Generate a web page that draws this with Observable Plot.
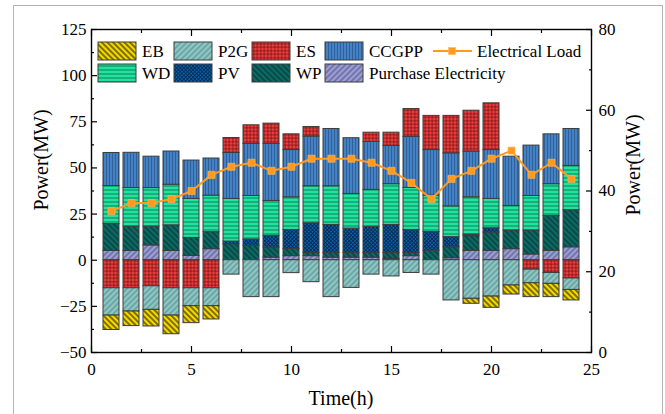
<!DOCTYPE html>
<html>
<head>
<meta charset="utf-8">
<script src="https://cdn.jsdelivr.net/npm/d3@7"></script>
<script src="https://cdn.jsdelivr.net/npm/@observablehq/plot@0.6"></script>
<style>
  body { margin: 0; background: #fff; }
  #wrap { position: relative; width: 665px; height: 414px; overflow: hidden;
          font-family: "Liberation Serif", "Times New Roman", serif; color: #000; }
  #border { position: absolute; left: 13px; top: 5px; width: 648px; height: 460px; border: 1px solid #b4b4b4; }
  #chart { position: absolute; left: 0; top: 0; }
  .title { position: absolute; font-size: 20px; white-space: nowrap; transform: translate(-50%, -50%); }
  .rot { transform: translate(-50%, -50%) rotate(-90deg); }
</style>
</head>
<body>
<div id="wrap">
  <div id="border"></div>
  <div id="chart"></div>
  <div class="title" style="left:341px;top:398px">Time(h)</div>
  <div class="title rot" style="left:41px;top:160px">Power(MW)</div>
  <div class="title rot" style="left:633px;top:165px">Power(MW)</div>
</div>
<script>
// Hourly dispatch (MW); negative values are consumption / charging
const hours = [1, 2, 3, 4, 5, 6, 7, 8, 9, 10, 11, 12, 13, 14, 15, 16, 17, 18, 19, 20, 21, 22, 23, 24];
const purchase = [5, 5, 8, 5, 2.3, 6, 0, 0, 1.4, 2.2, 2.2, 1.4, 1.4, 1.4, 0.7, 2.2, 0, 1.1, 5.1, 5.1, 6, 3.1, 5.1, 7];
const wp = [14.6, 13.2, 10.2, 13.9, 9.8, 9.2, 8.7, 7.8, 5.5, 3.9, 1.8, 2.6, 2.6, 2.6, 3.3, 1.8, 5.1, 5.9, 7.9, 9.9, 10.1, 13, 18.9, 20.1];
const pv = [0, 0, 0, 0, 0, 0, 1.4, 3.4, 6.3, 10.3, 16, 15.1, 13.1, 14.1, 15.1, 12.4, 10.2, 5.5, 0.9, 2.3, 0, 0, 0, 0];
const wd = [20.6, 20.9, 20.9, 22, 21.1, 19.8, 23.1, 23.6, 18.9, 17.7, 20.1, 21, 18.8, 20, 22.1, 22.8, 19.7, 16.7, 20.2, 15.9, 13.3, 18.7, 17.2, 24];
const ccgpp = [17.9, 19.1, 17, 18, 20.8, 20.1, 24.9, 28.2, 30.9, 25.6, 26.9, 31, 30.2, 26, 20.7, 27.6, 24.7, 28.7, 24.7, 26.5, 26.7, 27.3, 27, 20];
const es = [-15.2, -15.2, -14.1, -15.2, -15.2, -15.2, 8.1, 10.1, 11, 8.5, 5.2, 0, 0, 5, 7.2, 15.1, 18.5, 20.3, 22.2, 25.3, 0, -5.1, -6.9, -9.9];
const p2g = [-14.8, -12.6, -12.8, -14.8, -9.7, -9.7, -7.8, -20, -20, -7, -11.9, -20, -15, -7.8, -8.8, -6.9, -7.8, -21.8, -20.9, -19.7, -13.7, -7.4, -5.9, -6.2];
const eb = [-7.8, -7.9, -9, -10.1, -9.2, -7.2, 0, 0, 0, 0, 0, 0, 0, 0, 0, 0, 0, 0, -2.7, -6.1, -4.9, -7.5, -7.2, -5.7];
const load = [35, 37, 37, 38, 40, 44, 46, 47, 45, 46, 48, 48, 48, 47, 45, 42, 38, 43, 45, 48, 50, 44, 47, 43];

// Stack order: first entry sits next to zero
const series = [
  {name: "Purchase Electricity", id: "pur", values: purchase},
  {name: "WP", id: "wp", values: wp},
  {name: "PV", id: "pv", values: pv},
  {name: "WD", id: "wd", values: wd},
  {name: "CCGPP", id: "cc", values: ccgpp},
  {name: "ES", id: "es", values: es},
  {name: "P2G", id: "p2g", values: p2g},
  {name: "EB", id: "eb", values: eb}
];

const rows = [];
for (const s of series) {
  s.values.forEach((v, i) => { if (v !== 0) rows.push({hour: hours[i], series: s.name, value: v}); });
}

// Secondary (right) axis 0–80 mapped onto the primary -50–125 domain
const toLeft = d3.scaleLinear([0, 80], [-50, 125]);
const loadRows = hours.map((h, i) => ({hour: h, load: load[i]}));

const halfWidth = 0.4;
const leftMajor = d3.range(-50, 126, 25);
const leftMinor = d3.range(-37.5, 125, 25);
const rightMajor = d3.range(0, 81, 20);
const rightMinor = d3.range(10, 80, 20);
const xMajor = d3.range(0, 26, 5);
const xMinor = d3.range(2.5, 25, 5);

const chart = Plot.plot({
  width: 665,
  height: 414,
  marginLeft: 91,
  marginRight: 74,
  marginTop: 29,
  marginBottom: 62,
  style: {fontFamily: "Liberation Serif, Times New Roman, serif", fontSize: "17px", background: "transparent", color: "#000"},
  x: {domain: [0, 25], axis: null},
  y: {domain: [-50, 125], axis: null},
  color: {domain: series.map(s => s.name), range: series.map(s => `url(#pat-${s.id})`)},
  marks: [
    Plot.rectY(rows, {
      x1: d => d.hour - halfWidth,
      x2: d => d.hour + halfWidth,
      y: "value",
      fill: "series",
      stroke: "#3c3c3c",
      strokeWidth: 1
    }),
    Plot.line(loadRows, {x: "hour", y: d => toLeft(d.load), stroke: "#ff9a1f", strokeWidth: 2}),
    Plot.dot(loadRows, {x: "hour", y: d => toLeft(d.load), symbol: "square", r: 4, fill: "#ff9a1f", stroke: "#ffb861", strokeWidth: 0.6}),
    Plot.frame({stroke: "#000", strokeWidth: 1.4}),
    // left axis
    Plot.axisY(leftMajor, {anchor: "left", tickSize: 0, tickPadding: 5, label: null}),
    Plot.axisY(leftMajor, {anchor: "left", tickSize: -6, tickFormat: () => "", label: null, strokeWidth: 1.2}),
    Plot.axisY(leftMinor, {anchor: "left", tickSize: -3, tickFormat: () => "", label: null, strokeWidth: 1.2}),
    // right axis (load)
    Plot.axisY(rightMajor.map(toLeft), {anchor: "right", tickSize: 0, tickPadding: 7, label: null, tickFormat: v => Math.round(toLeft.invert(v))}),
    Plot.axisY(rightMajor.map(toLeft), {anchor: "right", tickSize: -6, tickFormat: () => "", label: null, strokeWidth: 1.2}),
    Plot.axisY(rightMinor.map(toLeft), {anchor: "right", tickSize: -3, tickFormat: () => "", label: null, strokeWidth: 1.2}),
    // bottom and top axes
    Plot.axisX(xMajor, {anchor: "bottom", tickSize: 0, tickPadding: 10, label: null}),
    Plot.axisX(xMajor, {anchor: "bottom", tickSize: -6, tickFormat: () => "", label: null, strokeWidth: 1.2}),
    Plot.axisX(xMinor, {anchor: "bottom", tickSize: -3, tickFormat: () => "", label: null, strokeWidth: 1.2}),
    Plot.axisX(xMajor, {anchor: "top", tickSize: -6, tickFormat: () => "", label: null, strokeWidth: 1.2}),
    Plot.axisX(xMinor, {anchor: "top", tickSize: -3, tickFormat: () => "", label: null, strokeWidth: 1.2})
  ]
});

// Fill patterns for the stacked bars and legend swatches
const svg = d3.select(chart);
const defs = svg.insert("defs", ":first-child");
function pattern(id, bg, fg, size, angle, width, grid = false) {
  const p = defs.append("pattern")
    .attr("id", id)
    .attr("patternUnits", "userSpaceOnUse")
    .attr("width", size).attr("height", size)
    .attr("patternTransform", `rotate(${angle})`);
  p.append("rect").attr("width", size).attr("height", size).attr("fill", bg);
  p.append("line").attr("x1", size / 2).attr("x2", size / 2).attr("y1", 0).attr("y2", size)
    .attr("stroke", fg).attr("stroke-width", width);
  if (grid) {
    p.append("line").attr("x1", 0).attr("x2", size).attr("y1", size / 2).attr("y2", size / 2)
      .attr("stroke", fg).attr("stroke-width", width);
  }
}
pattern("pat-eb", "#f5d800", "#1a1a00", 4, -45, 1.1);
pattern("pat-p2g", "#8fc7c5", "#4a8886", 4, 45, 1);
pattern("pat-es", "#f43e3e", "#4a0808", 3.5, 0, 0.6, true);
pattern("pat-cc", "#4482c4", "#27518a", 3, 0, 0.7);
pattern("pat-wd", "#21e3a1", "#0b6e4c", 4, 90, 0.9);
pattern("pat-pv", "#0b5ea8", "#02203f", 2.6, 45, 0.7, true);
pattern("pat-wp", "#0c6b66", "#022e2b", 4, -45, 1.1);
pattern("pat-pur", "#9c9fd7", "#4b4b78", 4, 45, 1);

// Legend inside the plot area
const legendItems = [
  {name: "EB", id: "eb", x: 98, y: 42},
  {name: "P2G", id: "p2g", x: 174, y: 42},
  {name: "ES", id: "es", x: 252, y: 42},
  {name: "CCGPP", id: "cc", x: 325, y: 42},
  {name: "WD", id: "wd", x: 98, y: 64},
  {name: "PV", id: "pv", x: 174, y: 64},
  {name: "WP", id: "wp", x: 252, y: 64},
  {name: "Purchase Electricity", id: "pur", x: 325, y: 64}
];
const lg = svg.append("g")
  .attr("font-family", "Liberation Serif, Times New Roman, serif")
  .attr("font-size", 17)
  .attr("text-anchor", "start");
for (const it of legendItems) {
  lg.append("rect").attr("x", it.x).attr("y", it.y).attr("width", 38).attr("height", 18)
    .attr("fill", `url(#pat-${it.id})`).attr("stroke", "#3c3c3c").attr("stroke-width", 1);
  lg.append("text").attr("x", it.x + 44).attr("y", it.y + 9).attr("dy", "0.35em").text(it.name);
}
lg.append("line").attr("x1", 433).attr("x2", 472).attr("y1", 51).attr("y2", 51)
  .attr("stroke", "#ff9a1f").attr("stroke-width", 2);
lg.append("rect").attr("x", 448.5).attr("y", 47.5).attr("width", 7).attr("height", 7)
  .attr("fill", "#ff9a1f").attr("stroke", "#ffb861").attr("stroke-width", 0.6);
lg.append("text").attr("x", 477).attr("y", 51).attr("dy", "0.35em").text("Electrical Load");

document.getElementById("chart").appendChild(chart);
</script>
</body>
</html>
